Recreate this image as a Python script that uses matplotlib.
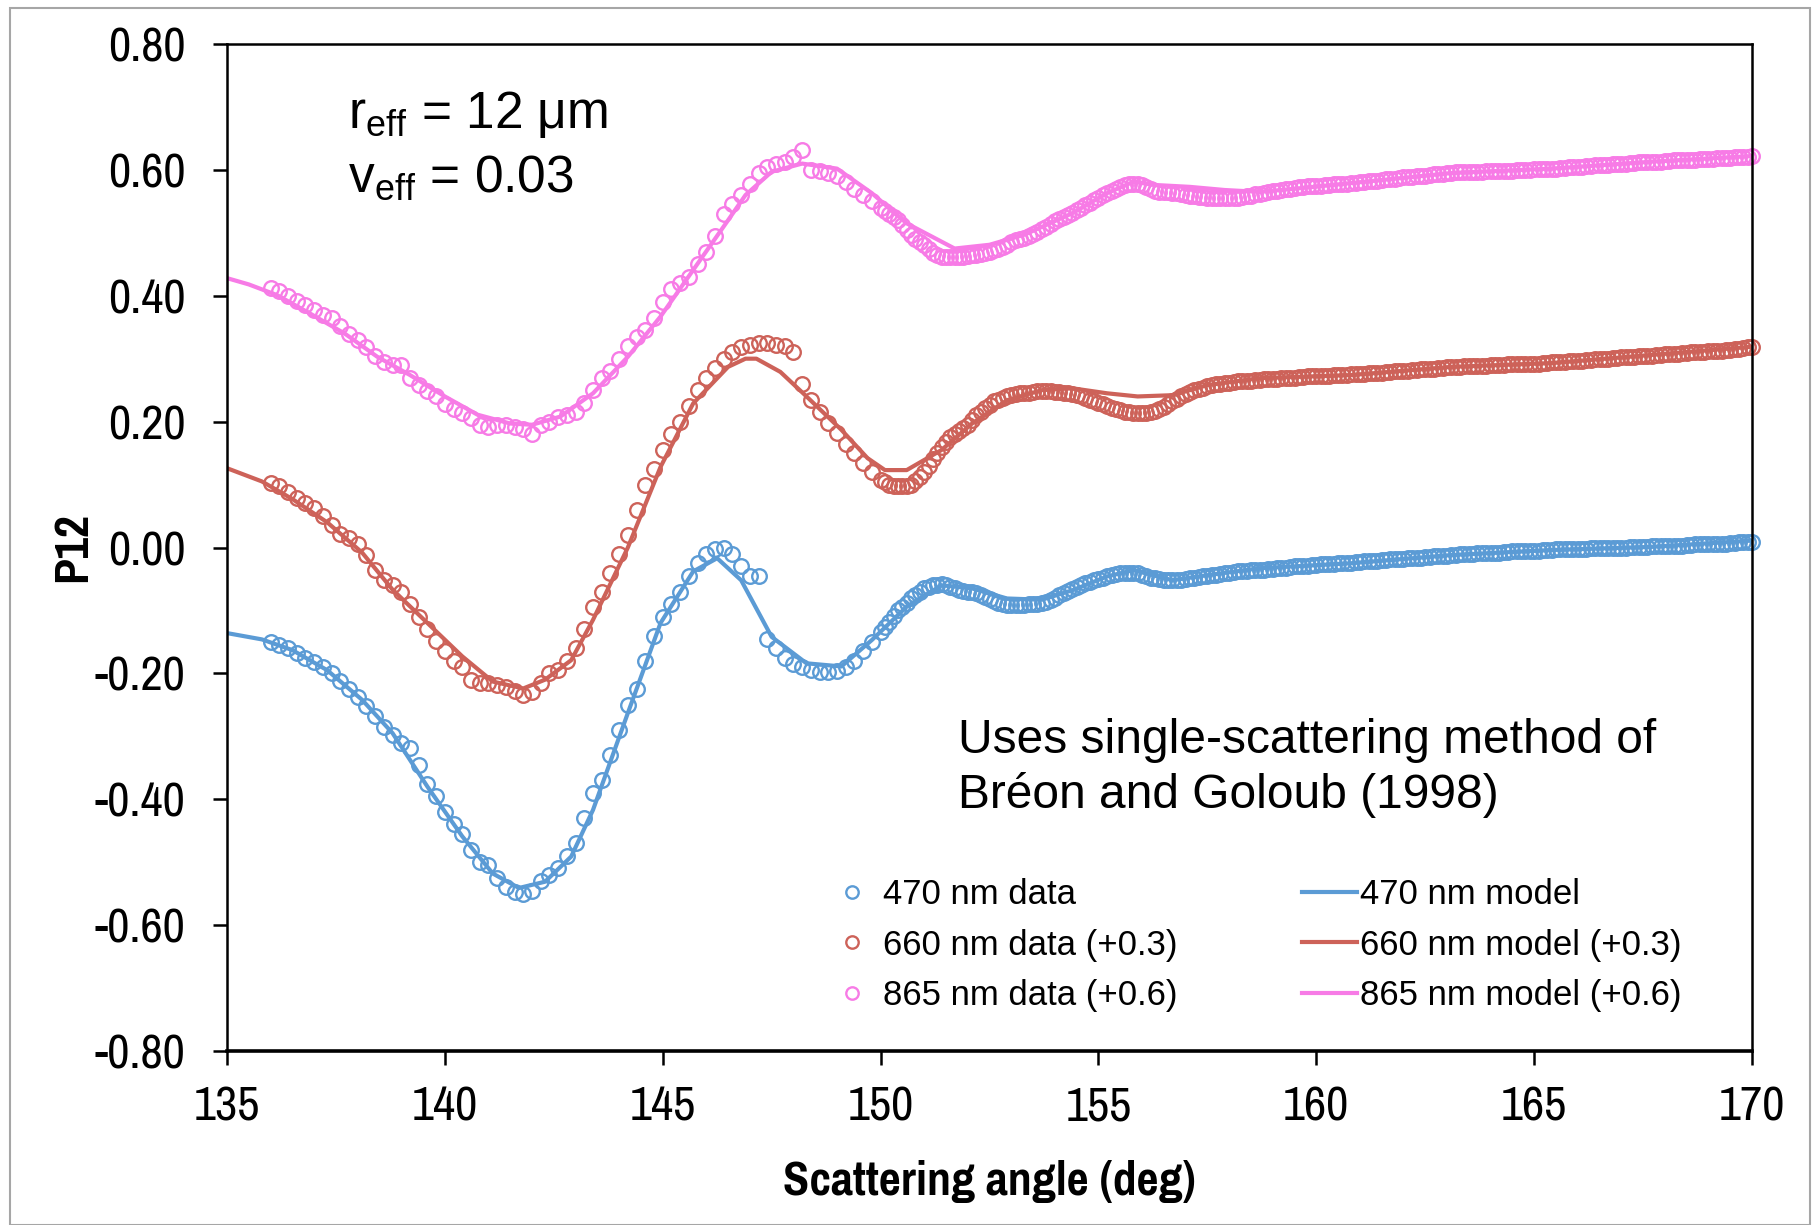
import numpy as np
import matplotlib
matplotlib.use("Agg")
import matplotlib.pyplot as plt
from matplotlib.patches import Rectangle

plt.rcParams['font.family'] = ['Liberation Sans', 'DejaVu Sans']
plt.rcParams['axes.unicode_minus'] = False
# ticks and axis titles use a narrow face in the original
narrow = ['Pragati Narrow', 'Archivo Narrow', 'Liberation Sans', 'DejaVu Sans']

# colours of the three wavelengths
c470 = '#5B9BD5'
c660 = '#CD6259'
c865 = '#F77BE6'

# measured P12 (open circles): every 0.2 deg up to 149.8, then every 0.1 deg to 170
angle_data = np.concatenate([np.linspace(136.0, 149.8, 70), np.linspace(150.0, 170.0, 201)])

p12_470_data = [
    -0.150, -0.155, -0.160, -0.168, -0.175, -0.182, -0.190, -0.200, -0.212, -0.225,  # 136
    -0.238, -0.252, -0.268, -0.285, -0.298, -0.310, -0.318, -0.345, -0.375, -0.395,  # 138
    -0.420, -0.440, -0.455, -0.480, -0.500, -0.505, -0.525, -0.540, -0.548, -0.550,  # 140
    -0.545, -0.530, -0.520, -0.510, -0.490, -0.470, -0.430, -0.390, -0.370, -0.330,  # 142
    -0.290, -0.250, -0.225, -0.180, -0.140, -0.110, -0.090, -0.070, -0.045, -0.025,  # 144
    -0.010, -0.003, 0.000, -0.010, -0.030, -0.045, -0.045, -0.145, -0.160, -0.175,   # 146
    -0.185, -0.190, -0.195, -0.198, -0.198, -0.197, -0.190, -0.180, -0.165, -0.150,  # 148
    # 0.1 deg steps from here
    -0.135, -0.127, -0.118, -0.109, -0.100, -0.094, -0.088, -0.081, -0.075, -0.070,  # 150
    -0.065, -0.062, -0.060, -0.059, -0.058, -0.060, -0.062, -0.065, -0.068, -0.069,  # 151
    -0.070, -0.071, -0.072, -0.075, -0.078, -0.082, -0.085, -0.088, -0.090, -0.091,  # 152
    -0.092, -0.092, -0.092, -0.091, -0.090, -0.090, -0.090, -0.088, -0.086, -0.083,  # 153
    -0.080, -0.076, -0.072, -0.069, -0.066, -0.063, -0.060, -0.057, -0.055, -0.052,  # 154
    -0.050, -0.048, -0.046, -0.044, -0.042, -0.041, -0.040, -0.040, -0.040, -0.041,  # 155
    -0.043, -0.046, -0.048, -0.049, -0.050, -0.051, -0.052, -0.052, -0.052, -0.051,  # 156
    -0.050, -0.049, -0.048, -0.047, -0.046, -0.045, -0.044, -0.043, -0.042, -0.041,  # 157
    -0.040, -0.039, -0.038, -0.038, -0.037, -0.036, -0.036, -0.035, -0.035, -0.034,  # 158
    -0.034, -0.033, -0.032, -0.032, -0.031, -0.030, -0.030, -0.029, -0.029, -0.028,  # 159
    -0.028, -0.027, -0.027, -0.026, -0.026, -0.025, -0.025, -0.024, -0.024, -0.023,  # 160
    -0.023, -0.022, -0.022, -0.021, -0.021, -0.020, -0.020, -0.019, -0.019, -0.018,  # 161
    -0.018, -0.017, -0.017, -0.016, -0.016, -0.015, -0.015, -0.014, -0.014, -0.013,  # 162
    -0.013, -0.012, -0.012, -0.011, -0.011, -0.010, -0.010, -0.009, -0.009, -0.008,  # 163
    -0.008, -0.008, -0.008, -0.007, -0.007, -0.006, -0.006, -0.006, -0.006, -0.005,  # 164
    -0.005, -0.005, -0.004, -0.004, -0.004, -0.003, -0.003, -0.003, -0.003, -0.002,  # 165
    -0.002, -0.002, -0.002, -0.001, -0.001, -0.001, -0.001, 0.000, 0.000, 0.000,     # 166
    0.000, 0.000, 0.001, 0.001, 0.001, 0.001, 0.001, 0.002, 0.002, 0.002,            # 167
    0.002, 0.003, 0.003, 0.003, 0.003, 0.004, 0.004, 0.005, 0.005, 0.005,            # 168
    0.005, 0.006, 0.006, 0.006, 0.006, 0.007, 0.007, 0.008, 0.008, 0.009,            # 169
    0.009,                                                                            # 170
]

p12_660_data = [
    0.102, 0.098, 0.088, 0.078, 0.070, 0.062, 0.050, 0.035, 0.022, 0.015,            # 136
    0.005, -0.012, -0.035, -0.052, -0.060, -0.070, -0.090, -0.110, -0.130, -0.148,   # 138
    -0.165, -0.180, -0.190, -0.210, -0.215, -0.215, -0.218, -0.222, -0.228, -0.235,  # 140
    -0.230, -0.215, -0.200, -0.195, -0.180, -0.160, -0.130, -0.095, -0.070, -0.040,  # 142
    -0.010, 0.020, 0.060, 0.100, 0.125, 0.155, 0.180, 0.200, 0.225, 0.250,           # 144
    0.270, 0.285, 0.300, 0.310, 0.318, 0.322, 0.325, 0.325, 0.322, 0.320,            # 146
    0.310, 0.260, 0.235, 0.215, 0.198, 0.182, 0.165, 0.150, 0.135, 0.120,            # 148
    # 0.1 deg steps from here
    0.108, 0.104, 0.100, 0.098, 0.097, 0.097, 0.097, 0.100, 0.105, 0.112,  # 150
    0.120, 0.130, 0.140, 0.150, 0.160, 0.168, 0.175, 0.180, 0.185, 0.190,  # 151
    0.195, 0.203, 0.210, 0.216, 0.222, 0.227, 0.232, 0.235, 0.238, 0.240,  # 152
    0.242, 0.244, 0.245, 0.246, 0.246, 0.247, 0.248, 0.248, 0.248, 0.248,  # 153
    0.247, 0.247, 0.246, 0.245, 0.244, 0.242, 0.240, 0.238, 0.235, 0.232,  # 154
    0.230, 0.228, 0.225, 0.222, 0.220, 0.218, 0.216, 0.215, 0.214, 0.213,  # 155
    0.213, 0.214, 0.215, 0.217, 0.220, 0.224, 0.228, 0.232, 0.236, 0.240,  # 156
    0.244, 0.247, 0.250, 0.252, 0.254, 0.256, 0.258, 0.259, 0.260, 0.261,  # 157
    0.262, 0.263, 0.264, 0.264, 0.265, 0.265, 0.266, 0.266, 0.267, 0.267,  # 158
    0.268, 0.268, 0.269, 0.269, 0.270, 0.270, 0.271, 0.271, 0.272, 0.272,  # 159
    0.272, 0.272, 0.273, 0.273, 0.274, 0.274, 0.274, 0.274, 0.275, 0.275,  # 160
    0.276, 0.276, 0.277, 0.277, 0.278, 0.278, 0.279, 0.279, 0.280, 0.280,  # 161
    0.281, 0.281, 0.282, 0.282, 0.283, 0.283, 0.284, 0.284, 0.285, 0.285,  # 162
    0.286, 0.286, 0.287, 0.287, 0.288, 0.288, 0.289, 0.289, 0.289, 0.289,  # 163
    0.290, 0.290, 0.290, 0.290, 0.291, 0.291, 0.291, 0.291, 0.292, 0.292,  # 164
    0.292, 0.292, 0.293, 0.293, 0.294, 0.294, 0.295, 0.295, 0.296, 0.296,  # 165
    0.297, 0.297, 0.298, 0.298, 0.299, 0.299, 0.300, 0.300, 0.301, 0.301,  # 166
    0.302, 0.302, 0.303, 0.303, 0.304, 0.304, 0.305, 0.305, 0.306, 0.306,  # 167
    0.307, 0.307, 0.308, 0.308, 0.309, 0.309, 0.310, 0.310, 0.311, 0.311,  # 168
    0.312, 0.312, 0.313, 0.313, 0.314, 0.314, 0.315, 0.316, 0.317, 0.318,  # 169
    0.319,                                                                  # 170
]

p12_865_data = [
    0.412, 0.408, 0.400, 0.392, 0.385, 0.378, 0.370, 0.365, 0.352, 0.340,  # 136
    0.330, 0.318, 0.305, 0.295, 0.290, 0.290, 0.270, 0.258, 0.248, 0.240,  # 138
    0.228, 0.220, 0.213, 0.205, 0.195, 0.192, 0.195, 0.195, 0.192, 0.188,  # 140
    0.180, 0.195, 0.200, 0.208, 0.210, 0.215, 0.230, 0.250, 0.270, 0.280,  # 142
    0.300, 0.320, 0.335, 0.345, 0.365, 0.390, 0.410, 0.420, 0.430, 0.450,  # 144
    0.470, 0.495, 0.530, 0.545, 0.560, 0.578, 0.595, 0.605, 0.610, 0.612,  # 146
    0.620, 0.632, 0.600, 0.598, 0.595, 0.590, 0.580, 0.570, 0.560, 0.550,  # 148
    # 0.1 deg steps from here
    0.540, 0.535, 0.530, 0.525, 0.520, 0.512, 0.505, 0.497, 0.490, 0.485,  # 150
    0.480, 0.474, 0.468, 0.465, 0.462, 0.462, 0.462, 0.462, 0.462, 0.462,  # 151
    0.463, 0.464, 0.465, 0.466, 0.468, 0.470, 0.472, 0.474, 0.477, 0.481,  # 152
    0.485, 0.488, 0.490, 0.492, 0.495, 0.498, 0.502, 0.506, 0.510, 0.514,  # 153
    0.518, 0.522, 0.525, 0.528, 0.532, 0.536, 0.540, 0.544, 0.548, 0.552,  # 154
    0.556, 0.560, 0.563, 0.567, 0.570, 0.573, 0.576, 0.577, 0.578, 0.577,  # 155
    0.576, 0.573, 0.570, 0.567, 0.565, 0.565, 0.565, 0.564, 0.563, 0.561,  # 156
    0.560, 0.559, 0.558, 0.557, 0.557, 0.556, 0.556, 0.555, 0.555, 0.555,  # 157
    0.555, 0.555, 0.556, 0.557, 0.558, 0.559, 0.561, 0.562, 0.563, 0.565,  # 158
    0.566, 0.567, 0.568, 0.569, 0.570, 0.571, 0.572, 0.573, 0.574, 0.574,  # 159
    0.575, 0.575, 0.576, 0.576, 0.577, 0.577, 0.578, 0.578, 0.579, 0.579,  # 160
    0.580, 0.581, 0.582, 0.582, 0.583, 0.584, 0.585, 0.585, 0.586, 0.587,  # 161
    0.588, 0.588, 0.589, 0.590, 0.591, 0.591, 0.592, 0.593, 0.594, 0.594,  # 162
    0.595, 0.595, 0.596, 0.596, 0.597, 0.597, 0.597, 0.597, 0.597, 0.598,  # 163
    0.598, 0.598, 0.599, 0.599, 0.599, 0.599, 0.600, 0.600, 0.600, 0.600,  # 164
    0.601, 0.601, 0.601, 0.601, 0.602, 0.602, 0.603, 0.603, 0.604, 0.604,  # 165
    0.605, 0.605, 0.606, 0.606, 0.607, 0.607, 0.608, 0.608, 0.609, 0.609,  # 166
    0.610, 0.610, 0.611, 0.611, 0.612, 0.612, 0.613, 0.613, 0.613, 0.613,  # 167
    0.614, 0.614, 0.615, 0.615, 0.615, 0.615, 0.616, 0.616, 0.617, 0.617,  # 168
    0.618, 0.618, 0.619, 0.619, 0.619, 0.619, 0.620, 0.620, 0.621, 0.621,  # 169
    0.622,                                                                  # 170
]

# model curves (solid lines)
angle_470_model = [135.0, 135.8, 136.5, 137.3, 138.1, 138.8, 139.6, 140.4, 141.1, 141.7,
                   142.3, 142.9, 143.4, 144.2, 144.95, 145.7, 146.25, 146.8, 147.5, 148.3,
                   149.1, 149.8, 150.6, 151.4, 152.1, 152.9, 153.7, 154.4, 155.2, 155.8,
                   156.7, 157.5, 158.7, 160.8, 163.1, 165.4, 167.7, 170.0]
p12_470_model = [-0.136, -0.146, -0.163, -0.195, -0.242, -0.295, -0.380, -0.459, -0.518, -0.541,
                 -0.531, -0.491, -0.417, -0.263, -0.120, -0.038, -0.017, -0.052, -0.142, -0.184,
                 -0.189, -0.147, -0.094, -0.060, -0.065, -0.081, -0.083, -0.068, -0.046, -0.036,
                 -0.052, -0.044, -0.033, -0.025, -0.012, -0.004, 0.001, 0.011]

angle_660_model = [135.0, 135.8, 136.5, 137.3, 138.1, 138.8, 139.6, 140.4, 141.1, 141.8,
                   142.3, 142.9, 143.4, 144.2, 144.95, 145.7, 146.5, 146.9, 147.15, 147.7,
                   148.3, 149.1, 149.7, 150.1, 150.6, 151.4, 152.1, 152.9, 153.7, 154.4,
                   155.2, 155.9, 156.7, 157.5, 158.7, 160.8, 163.1, 165.4, 167.7, 170.0]
p12_660_model = [0.126, 0.105, 0.077, 0.040, -0.008, -0.067, -0.120, -0.173, -0.213, -0.224,
                 -0.210, -0.179, -0.115, 0.000, 0.128, 0.229, 0.287, 0.300, 0.300, 0.279,
                 0.240, 0.187, 0.142, 0.123, 0.123, 0.155, 0.197, 0.234, 0.250, 0.253,
                 0.245, 0.240, 0.242, 0.258, 0.269, 0.274, 0.287, 0.293, 0.306, 0.319]

angle_865_model = [135.0, 135.5, 136.15, 136.9, 137.7, 138.45, 139.2, 140.0, 140.75, 141.5,
                   142.0, 142.65, 143.4, 144.2, 144.95, 145.7, 146.5, 146.9, 147.5, 148.2,
                   149.0, 149.8, 150.6, 151.7, 152.5, 153.3, 154.4, 155.2, 155.8, 156.3,
                   157.1, 157.9, 158.7, 159.5, 160.8, 163.1, 165.4, 167.7, 170.0]
p12_865_model = [0.428, 0.418, 0.401, 0.372, 0.340, 0.303, 0.274, 0.240, 0.211, 0.197,
                 0.195, 0.208, 0.245, 0.303, 0.367, 0.441, 0.520, 0.560, 0.597, 0.610,
                 0.602, 0.563, 0.515, 0.475, 0.481, 0.497, 0.531, 0.563, 0.581, 0.576,
                 0.573, 0.568, 0.565, 0.570, 0.579, 0.595, 0.602, 0.613, 0.622]

y_ticks = [-0.8, -0.6, -0.4, -0.2, 0.0, 0.2, 0.4, 0.6, 0.8]
y_tick_labels = ['-0.80', '-0.60', '-0.40', '-0.20', '0.00', '0.20', '0.40', '0.60', '0.80']
x_ticks = [135, 140, 145, 150, 155, 160, 165, 170]

W, H = 1814, 1225
fig = plt.figure(figsize=(W / 100, H / 100), dpi=100)
fig.patches.append(Rectangle((10 / W, 0.5 / H), 1800 / W, 1217 / H, transform=fig.transFigure,
                             fill=False, edgecolor='#A6A6A6', linewidth=1.5))
ax = fig.add_axes([227 / W, 1 - 1051 / H, 1525 / W, 1007 / H])

mk = dict(marker='o', linestyle='none', markersize=10.5, markerfacecolor='none',
          markeredgewidth=1.7, clip_on=False)
d470, = ax.plot(angle_data, p12_470_data, color=c470, label='470 nm data', **mk)
d660, = ax.plot(angle_data, p12_660_data, color=c660, label='660 nm data (+0.3)', **mk)
d865, = ax.plot(angle_data, p12_865_data, color=c865, label='865 nm data (+0.6)', **mk)

m470, = ax.plot(angle_470_model, p12_470_model, color=c470, lw=3.0, label='470 nm model')
m660, = ax.plot(angle_660_model, p12_660_model, color=c660, lw=3.0, label='660 nm model (+0.3)')
m865, = ax.plot(angle_865_model, p12_865_model, color=c865, lw=3.0, label='865 nm model (+0.6)')

ax.set_xlim(135, 170)
ax.set_ylim(-0.8, 0.8)
ax.set_xticks(x_ticks)
ax.set_yticks(y_ticks)
ax.set_yticklabels(y_tick_labels)
ax.tick_params(axis='both', direction='out', length=10, width=1.8, labelsize=38, color='black')
ax.tick_params(axis='y', pad=20)
ax.tick_params(axis='x', pad=15)
for lab in ax.get_xticklabels() + ax.get_yticklabels():
    lab.set_family(narrow)
for s in ax.spines.values():
    s.set_linewidth(1.8)
    s.set_color('black')
ax.spines['bottom'].set_linewidth(2.6)

ax.set_xlabel('Scattering angle (deg)', fontsize=37.5, fontweight='bold', family=narrow)
ax.set_ylabel('P12', fontsize=37.5, fontweight='bold', family=narrow)
ax.xaxis.set_label_coords(0.5, -0.108)
ax.yaxis.set_label_coords(-0.087, 0.5)

# annotations
fig.text(348 / W, 1 - 128 / H, r'r$_\mathregular{eff}$ = 12 μm', fontsize=37, ha='left', va='baseline')
fig.text(348 / W, 1 - 192 / H, r'v$_\mathregular{eff}$ = 0.03', fontsize=37, ha='left', va='baseline')
fig.text(958 / W, 1 - 753 / H, 'Uses single-scattering method of', fontsize=34.5, ha='left', va='baseline')
fig.text(958 / W, 1 - 808 / H, 'Bréon and Goloub (1998)', fontsize=34.5, ha='left', va='baseline')

leg_kw = dict(frameon=False, fontsize=25, loc='center left', borderpad=0, borderaxespad=0,
              labelspacing=0.5, bbox_transform=fig.transFigure)
leg1 = ax.legend(handles=[d470, d660, d865], handlelength=1.0, handletextpad=0.39,
                 markerscale=0.85, bbox_to_anchor=(834.6 / W, 1 - 945 / H), **leg_kw)
ax.add_artist(leg1)
ax.legend(handles=[m470, m660, m865], handlelength=1.58, handletextpad=0.09,
          bbox_to_anchor=(1302 / W, 1 - 945 / H), **leg_kw)

fig.savefig('out.png', dpi=100)
